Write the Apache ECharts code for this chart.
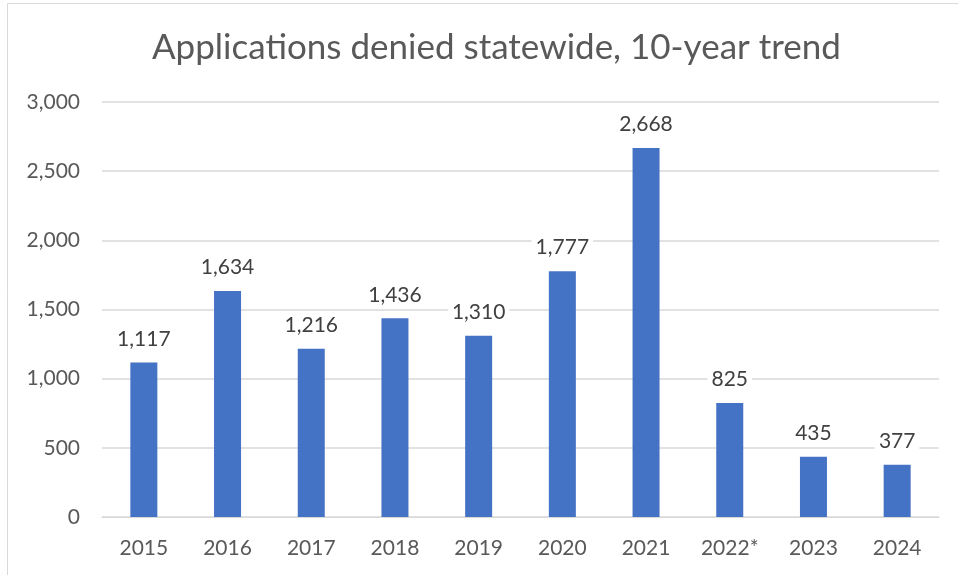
<!DOCTYPE html>
<html>
<head>
<meta charset="utf-8">
<script src="https://cdn.jsdelivr.net/npm/echarts@6/dist/echarts.min.js"></script>
<style>
  html, body { margin: 0; padding: 0; background: #fff; }
  #chart { width: 958px; height: 575px; }
</style>
</head>
<body>
<div id="chart"></div>
<script>
const years = ['2015', '2016', '2017', '2018', '2019', '2020', '2021', '2022*', '2023', '2024'];
const denied = [1117, 1634, 1216, 1436, 1310, 1777, 2668, 825, 435, 377];

const textColor = '#595959';
const fontFamily = 'Lato, "Open Sans", sans-serif';
const fmt = (v) => Number(v).toLocaleString('en-US');

const chart = echarts.init(document.getElementById('chart'));
chart.setOption({
  animation: false,
  title: {
    text: 'Applications denied statewide, 10-year trend',
    left: 147,
    top: 25,
    textStyle: { color: textColor, fontSize: 35, fontWeight: 'normal', fontFamily },
  },
  graphic: [
    {
      type: 'rect',
      shape: { x: 7.5, y: 3.5, width: 1000, height: 1000 },
      style: { fill: 'none', stroke: '#d9d9d9', lineWidth: 1 },
      silent: true,
    },
  ],
  grid: { left: 102, right: 19, top: 102, bottom: 58 },
  xAxis: {
    type: 'category',
    data: years,
    axisLine: { lineStyle: { color: '#d9d9d9' } },
    axisTick: { show: false },
    axisLabel: { color: textColor, fontSize: 21, fontFamily, margin: 21 },
  },
  yAxis: {
    type: 'value',
    min: 0,
    max: 3000,
    interval: 500,
    axisLine: { show: false },
    axisTick: { show: false },
    splitLine: { lineStyle: { color: '#d9d9d9', width: 1.5 } },
    axisLabel: { color: textColor, fontSize: 21, fontFamily, margin: 22, formatter: fmt },
  },
  series: [
    {
      type: 'bar',
      data: denied,
      barWidth: 27,
      itemStyle: { color: '#4472C4' },
      label: {
        show: true,
        position: 'top',
        distance: 12,
        color: '#404040',
        fontSize: 21,
        fontFamily,
        backgroundColor: '#fff',
        padding: [1, 4],
        formatter: (p) => fmt(p.value),
      },
    },
  ],
});
</script>
</body>
</html>
